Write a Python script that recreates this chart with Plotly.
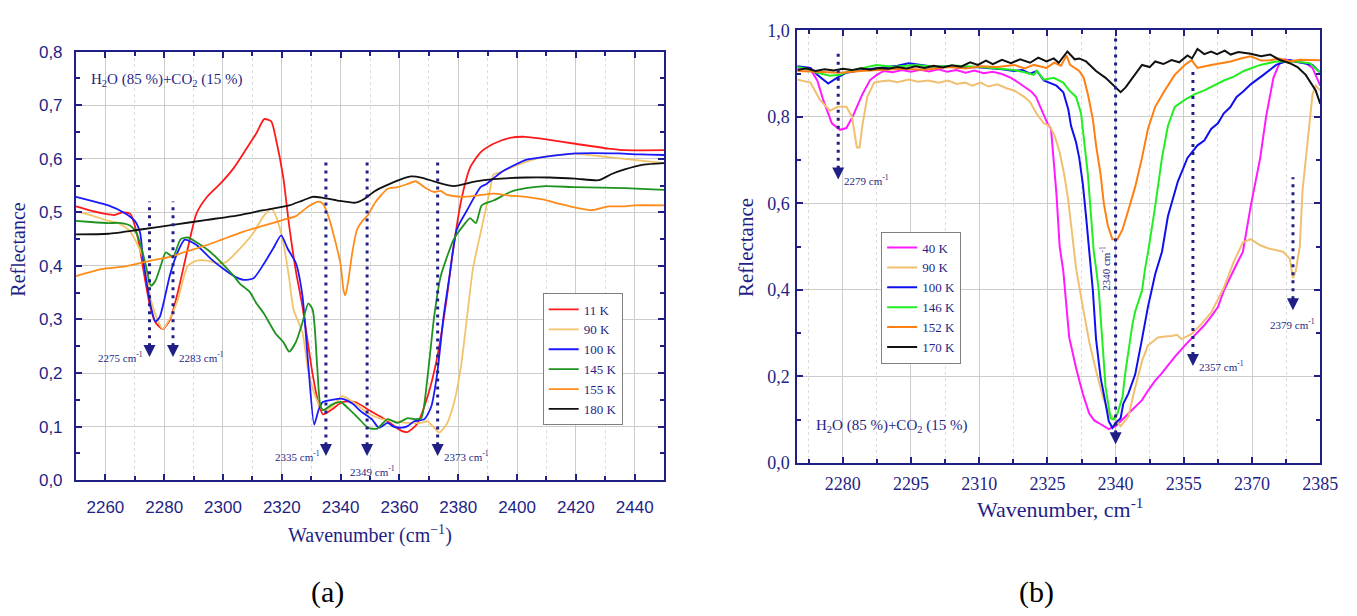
import plotly.graph_objects as go

NAVY = "#1f1f85"
SERIF = "Liberation Serif"
SANS = "Liberation Sans"

# ---------------- Panel (a) data ----------------
a_labels = ["11 K", "90 K", "100 K", "145 K", "155 K", "180 K"]
a_colors = ["#ff1a1a", "#f2c46a", "#1a1aff", "#1f931f", "#ff8c1a", "#111111"]

a11_x = [2250, 2255, 2260, 2263, 2266, 2268.5, 2270, 2271.5, 2273, 2275, 2277, 2279.5, 2282, 2284.6, 2288, 2291,
         2294.6, 2299, 2303.7, 2308, 2311.4, 2314, 2316.4, 2318, 2320.5, 2322.5, 2324.8, 2327, 2330.5, 2332.5, 2334,
         2337, 2340.6, 2345, 2349.3, 2355, 2360.7, 2362.8, 2366, 2369.5, 2372.8, 2376, 2378, 2381, 2384, 2387.6,
         2392, 2397.6, 2403, 2408.7, 2419.8, 2431, 2436.6, 2450]
a11_y = [0.511, 0.503, 0.497, 0.495, 0.500, 0.497, 0.475, 0.44, 0.39, 0.33, 0.295, 0.282, 0.300, 0.350, 0.432, 0.498,
         0.529, 0.553, 0.583, 0.619, 0.648, 0.674, 0.670, 0.637, 0.565, 0.475, 0.39, 0.325, 0.197, 0.143, 0.123,
         0.132, 0.146, 0.146, 0.132, 0.114, 0.092, 0.090, 0.105, 0.155, 0.228, 0.336, 0.42, 0.522, 0.583, 0.612,
         0.628, 0.639, 0.641, 0.637, 0.628, 0.619, 0.616, 0.616]

a90_x = [2250, 2255, 2261, 2264.4, 2267.8, 2271, 2273.5, 2275.5, 2278, 2279.5, 2282.2, 2284.6, 2288, 2291, 2294.6,
         2298, 2301, 2305.7, 2310.4, 2313.8, 2316.4, 2318, 2320.5, 2322.5, 2324, 2327, 2329, 2331.5, 2334, 2337,
         2340.6, 2345, 2349.3, 2354, 2358.4, 2362.8, 2367.4, 2369.5, 2371.8, 2373.5, 2376, 2378.5, 2381, 2383, 2385,
         2387.6, 2391, 2392, 2394, 2397.7, 2403, 2408.7, 2419.8, 2431, 2450]
a90_y = [0.502, 0.495, 0.484, 0.480, 0.468, 0.439, 0.403, 0.336, 0.296, 0.282, 0.305, 0.336, 0.400, 0.410, 0.410,
         0.405, 0.407, 0.432, 0.462, 0.493, 0.507, 0.493, 0.444, 0.377, 0.318, 0.276, 0.204, 0.155, 0.131, 0.137,
         0.157, 0.143, 0.125, 0.114, 0.110, 0.107, 0.107, 0.110, 0.098, 0.089, 0.104, 0.143, 0.215, 0.305, 0.395,
         0.462, 0.547, 0.571, 0.574, 0.583, 0.594, 0.603, 0.609, 0.603, 0.592]

a100_x = [2250, 2255, 2261, 2266.8, 2270, 2271.8, 2272.8, 2274, 2275.5, 2277, 2278.5, 2280, 2282, 2284.6, 2287, 2291,
          2295.7, 2300, 2303.7, 2307, 2310.4, 2313.8, 2317, 2319.8, 2322, 2324.8, 2327, 2329, 2331, 2332.5, 2333.9,
          2337, 2340.6, 2344, 2347, 2350.6, 2353, 2356, 2358, 2360.7, 2362.8, 2365, 2368.5, 2370.8, 2372.8, 2375,
          2377, 2379.5, 2383, 2387.6, 2389.6, 2395, 2403, 2408.7, 2419.8, 2434.6, 2442, 2450]
a100_y = [0.529, 0.522, 0.513, 0.498, 0.484, 0.462, 0.414, 0.370, 0.323, 0.296, 0.305, 0.336, 0.384, 0.426, 0.449,
          0.439, 0.414, 0.395, 0.381, 0.374, 0.377, 0.403, 0.432, 0.457, 0.432, 0.405, 0.345, 0.215, 0.104, 0.131,
          0.146, 0.150, 0.152, 0.143, 0.128, 0.114, 0.098, 0.107, 0.100, 0.098, 0.101, 0.110, 0.114, 0.137, 0.197,
          0.305, 0.380, 0.468, 0.504, 0.547, 0.553, 0.576, 0.598, 0.603, 0.610, 0.610, 0.608, 0.607]

a145_x = [2250, 2255, 2261, 2265.4, 2268.5, 2270.5, 2272, 2273.8, 2275.5, 2277, 2279, 2280.5, 2283, 2285.6, 2288,
          2291, 2295.7, 2300, 2303.7, 2305.7, 2309, 2311.4, 2313.8, 2318, 2320.5, 2322.5, 2324.8, 2327, 2329, 2330.5,
          2332, 2333, 2334, 2337, 2340, 2342.6, 2346, 2349.3, 2352.3, 2356, 2359.4, 2362.8, 2365, 2367.4, 2369.5,
          2371.8, 2374, 2376, 2378.5, 2382, 2384, 2386, 2388, 2392, 2397.7, 2403, 2409.7, 2419.8, 2436.6, 2450]
a145_y = [0.484, 0.482, 0.480, 0.480, 0.475, 0.462, 0.439, 0.400, 0.363, 0.372, 0.403, 0.425, 0.417, 0.450, 0.453,
          0.444, 0.426, 0.403, 0.381, 0.367, 0.352, 0.330, 0.312, 0.273, 0.258, 0.240, 0.258, 0.294, 0.330, 0.318,
          0.215, 0.143, 0.131, 0.141, 0.146, 0.134, 0.116, 0.098, 0.096, 0.114, 0.107, 0.116, 0.114, 0.116, 0.190,
          0.305, 0.380, 0.414, 0.450, 0.477, 0.489, 0.480, 0.513, 0.522, 0.538, 0.545, 0.549, 0.547, 0.545, 0.542]

a155_x = [2250, 2258.7, 2266.8, 2275.5, 2282, 2287, 2294.6, 2300, 2307, 2313.8, 2320.5, 2324.8, 2329, 2332.5, 2334,
          2336, 2338, 2340, 2341, 2341.6, 2342.6, 2344, 2345.6, 2347.7, 2349.3, 2351.7, 2356, 2359.4, 2362.8, 2365.5,
          2368.5, 2371.8, 2374, 2376, 2380.9, 2386, 2392, 2397.7, 2403, 2408.7, 2414.4, 2419.8, 2425.5, 2431,
          2436.6, 2440, 2450]
a155_y = [0.381, 0.394, 0.399, 0.410, 0.417, 0.426, 0.439, 0.450, 0.464, 0.475, 0.486, 0.493, 0.511, 0.520, 0.516,
          0.490, 0.450, 0.403, 0.354, 0.345, 0.372, 0.426, 0.468, 0.486, 0.495, 0.518, 0.544, 0.547, 0.553, 0.558,
          0.547, 0.538, 0.540, 0.533, 0.529, 0.531, 0.535, 0.531, 0.529, 0.524, 0.516, 0.509, 0.504, 0.511,
          0.511, 0.513, 0.513]

a180_x = [2250, 2261, 2272, 2283.5, 2294.6, 2305.7, 2313.8, 2322.5, 2327, 2330.5, 2334, 2339, 2345, 2348, 2351.7,
          2355, 2360.7, 2364, 2367.4, 2372.8, 2378.5, 2386, 2392, 2403, 2411, 2419.8, 2427.8, 2432, 2436.6, 2443, 2450]
a180_y = [0.459, 0.460, 0.468, 0.477, 0.486, 0.495, 0.504, 0.513, 0.522, 0.529, 0.527, 0.522, 0.518, 0.525, 0.540,
          0.549, 0.562, 0.567, 0.565, 0.556, 0.549, 0.558, 0.562, 0.565, 0.565, 0.563, 0.560, 0.571, 0.580, 0.589, 0.592]

a_series = [(a11_x, a11_y), (a90_x, a90_y), (a100_x, a100_y), (a145_x, a145_y), (a155_x, a155_y), (a180_x, a180_y)]

# peak markers panel (a): wavenumber, top of dotted line, arrow tip
a_peaks = [2275, 2283, 2335, 2349, 2373]
a_tops = [0.52, 0.52, 0.60, 0.60, 0.60]
a_tips = [0.23, 0.23, 0.045, 0.045, 0.045]

# ---------------- Panel (b) data ----------------
b_labels = ["40 K", "90 K", "100 K", "146 K", "152 K", "170 K"]
b_colors = ["#ff1aff", "#f0c070", "#1010ee", "#22ee22", "#ff7f10", "#111111"]

b40_x = [2270, 2271.5, 2273, 2274.4, 2275.7, 2277.6, 2279.4, 2280.8, 2282.2, 2284.3, 2286, 2287.5, 2289, 2291, 2293,
         2295, 2297, 2299, 2301, 2303, 2305, 2307, 2309, 2311, 2313, 2315, 2317, 2318.5, 2320, 2321.5, 2322.5, 2323.8,
         2325, 2325.8, 2326.4, 2327, 2327.7, 2328.5, 2329.2, 2329.8, 2331.3, 2332.8, 2334.2, 2335.3, 2336.3, 2337.4,
         2338.5, 2339.3, 2340, 2341, 2342.8, 2344, 2345.8, 2347, 2348.7, 2350, 2351.5, 2353, 2355.2, 2356.5, 2358,
         2359.5, 2361, 2362.5, 2363.8, 2365.2, 2366.6, 2368, 2369.7, 2371.8, 2373.1, 2374.7, 2376.2, 2377.2, 2379,
         2381.8, 2383.3, 2385]
b40_y = [0.913, 0.911, 0.908, 0.884, 0.839, 0.785, 0.770, 0.774, 0.801, 0.852, 0.885, 0.897, 0.906, 0.903, 0.908,
         0.904, 0.909, 0.905, 0.910, 0.904, 0.908, 0.902, 0.907, 0.901, 0.904, 0.899, 0.890, 0.880, 0.870, 0.858,
         0.846, 0.815, 0.785, 0.772, 0.705, 0.620, 0.500, 0.443, 0.360, 0.290, 0.219, 0.159, 0.114, 0.098, 0.092,
         0.085, 0.078, 0.082, 0.085, 0.095, 0.114, 0.126, 0.145, 0.165, 0.190, 0.205, 0.226, 0.245, 0.271, 0.285,
         0.302, 0.318, 0.338, 0.360, 0.398, 0.430, 0.459, 0.488, 0.593, 0.705, 0.801, 0.890, 0.928, 0.933, 0.928,
         0.924, 0.913, 0.872]

b90_x = [2270, 2272.9, 2275, 2277.2, 2278.9, 2280.8, 2282, 2282.6, 2283.1, 2283.7, 2284.3, 2285.4, 2286.9, 2288.5,
         2290.2, 2292, 2294.5, 2296.5, 2298.8, 2301, 2303.2, 2305, 2306.9, 2308.5, 2310.3, 2312, 2314, 2316, 2317.7,
         2319.9, 2321.2, 2322.7, 2324.2, 2325.5, 2326.6, 2327.7, 2328.7, 2329.6, 2330.2, 2330.9, 2331.3, 2332.8,
         2334.2, 2335.7, 2337.2, 2338.5, 2340, 2341.1, 2342.8, 2344.3, 2345.8, 2347.1, 2349.3, 2350.8, 2352.3,
         2353.5, 2354.5, 2356.7, 2358.8, 2361, 2363.8, 2366, 2368, 2369.7, 2371.8, 2373.5, 2375.3, 2376.8, 2378.3,
         2379, 2379.6, 2380.5, 2381.1, 2382.2, 2383.3, 2384, 2385]
b90_y = [0.886, 0.879, 0.839, 0.814, 0.823, 0.823, 0.801, 0.756, 0.729, 0.729, 0.779, 0.846, 0.879, 0.882, 0.884,
         0.880, 0.886, 0.881, 0.884, 0.879, 0.884, 0.876, 0.879, 0.872, 0.879, 0.870, 0.875, 0.866, 0.861, 0.846,
         0.834, 0.806, 0.785, 0.779, 0.756, 0.718, 0.667, 0.606, 0.548, 0.488, 0.450, 0.360, 0.280, 0.213, 0.152,
         0.114, 0.100, 0.085, 0.107, 0.174, 0.235, 0.271, 0.290, 0.292, 0.293, 0.296, 0.286, 0.298, 0.320, 0.347,
         0.405, 0.465, 0.510, 0.517, 0.503, 0.496, 0.492, 0.488, 0.472, 0.427, 0.443, 0.500, 0.629, 0.740, 0.852,
         0.872, 0.861]

b100_x = [2270, 2272.9, 2274.4, 2276.8, 2278.7, 2280.8, 2284.3, 2288.7, 2292, 2294.5, 2297.3, 2300, 2303.2, 2306,
          2309, 2311.8, 2315, 2317.7, 2319.5, 2321.2, 2322.7, 2324.2, 2325.5, 2327, 2328.5, 2329.6, 2330.2, 2331.3,
          2332, 2332.8, 2333.5, 2334.2, 2335, 2335.7, 2336.7, 2337.8, 2338.5, 2339.3, 2340, 2341.1, 2341.7, 2342.8,
          2344.3, 2345.8, 2347.1, 2348.7, 2350.2, 2351.5, 2353.7, 2355.8, 2358, 2359.5, 2361, 2362.5, 2363.8, 2365.2,
          2366.6, 2368, 2369.7, 2372.5, 2375.3, 2378.3, 2381.1, 2383.3, 2385]
b100_y = [0.917, 0.913, 0.897, 0.877, 0.890, 0.902, 0.908, 0.913, 0.918, 0.924, 0.920, 0.916, 0.917, 0.913, 0.915,
          0.913, 0.910, 0.906, 0.908, 0.900, 0.906, 0.884, 0.879, 0.872, 0.857, 0.817, 0.779, 0.741, 0.705, 0.644,
          0.570, 0.488, 0.398, 0.286, 0.197, 0.137, 0.096, 0.081, 0.092, 0.103, 0.137, 0.160, 0.204, 0.286, 0.360,
          0.436, 0.488, 0.570, 0.651, 0.705, 0.734, 0.745, 0.772, 0.785, 0.808, 0.822, 0.846, 0.858, 0.875, 0.897,
          0.920, 0.931, 0.924, 0.920, 0.902]

b146_x = [2270, 2272, 2274.4, 2277.2, 2279.4, 2281.5, 2284, 2287.4, 2291, 2296, 2300, 2305, 2310.3, 2314, 2317.7,
          2320, 2322, 2322.7, 2324.2, 2326.4, 2328.5, 2329.8, 2331.3, 2332.4, 2333.1, 2333.9, 2334.6, 2335.2, 2335.7,
          2336.3, 2337.2, 2337.8, 2338.9, 2339.6, 2340.4, 2341.5, 2342.2, 2342.8, 2343.7, 2344.3, 2345.8, 2346.5,
          2347.1, 2348.7, 2350.2, 2351.5, 2353, 2355.2, 2357.3, 2359.5, 2361.7, 2363.8, 2366, 2368.2, 2371.8, 2375.3,
          2379.6, 2382.7, 2385]
b146_y = [0.915, 0.911, 0.902, 0.895, 0.897, 0.906, 0.912, 0.920, 0.916, 0.920, 0.916, 0.918, 0.915, 0.911, 0.908,
          0.903, 0.897, 0.906, 0.886, 0.890, 0.879, 0.861, 0.846, 0.808, 0.741, 0.667, 0.570, 0.488, 0.450, 0.398,
          0.264, 0.174, 0.103, 0.100, 0.114, 0.152, 0.213, 0.260, 0.320, 0.350, 0.398, 0.450, 0.485, 0.593, 0.705,
          0.779, 0.823, 0.839, 0.852, 0.861, 0.872, 0.884, 0.893, 0.906, 0.920, 0.928, 0.928, 0.924, 0.902]

b152_x = [2270, 2275, 2279.4, 2284, 2288.7, 2293, 2298, 2303.2, 2307, 2310.3, 2314, 2317.7, 2320, 2322, 2324.8,
          2326.5, 2328, 2329.2, 2330, 2332, 2333, 2333.9, 2335, 2335.7, 2336.7, 2337.4, 2338.3, 2339.3, 2340.4,
          2341.5, 2342.8, 2344.3, 2345.8, 2347.1, 2348.7, 2350.8, 2353, 2355.2, 2356.7, 2358, 2361, 2363, 2365.3,
          2367.5, 2369.7, 2372, 2374, 2376, 2378.3, 2380.5, 2382.7, 2385]
b152_y = [0.906, 0.904, 0.902, 0.906, 0.908, 0.911, 0.909, 0.915, 0.912, 0.917, 0.915, 0.920, 0.912, 0.920, 0.913,
          0.925, 0.918, 0.942, 0.920, 0.906, 0.890, 0.852, 0.794, 0.734, 0.667, 0.600, 0.548, 0.517, 0.517, 0.539,
          0.584, 0.638, 0.705, 0.772, 0.823, 0.861, 0.897, 0.920, 0.931, 0.913, 0.920, 0.924, 0.928, 0.935, 0.940,
          0.930, 0.931, 0.935, 0.928, 0.932, 0.931, 0.931]

b170_x = [2270, 2272, 2274, 2276, 2278, 2280, 2282, 2284, 2286, 2288, 2290, 2292, 2294, 2296, 2298, 2300, 2302, 2304,
          2306, 2308, 2309.7, 2311.5, 2313, 2315, 2317, 2319, 2321.2, 2323, 2324.8, 2326.4, 2327.5, 2329.4, 2331,
          2332, 2333.5, 2335.7, 2337.8, 2339.3, 2340.2, 2341.1, 2342.2, 2343.7, 2345.8, 2347.5, 2348.7, 2350.5,
          2352.3, 2354, 2355.8, 2356.8, 2358, 2359.5, 2361, 2362.3, 2364, 2365.3, 2367, 2369.7, 2372, 2374, 2376,
          2378.3, 2380, 2381.8, 2384, 2385]
b170_y = [0.908, 0.912, 0.906, 0.910, 0.907, 0.911, 0.908, 0.912, 0.909, 0.913, 0.911, 0.915, 0.912, 0.917, 0.913,
          0.918, 0.914, 0.919, 0.916, 0.926, 0.920, 0.930, 0.922, 0.932, 0.924, 0.933, 0.925, 0.937, 0.928, 0.935,
          0.925, 0.951, 0.933, 0.935, 0.928, 0.906, 0.890, 0.875, 0.866, 0.857, 0.868, 0.890, 0.920, 0.915, 0.928,
          0.922, 0.931, 0.926, 0.942, 0.935, 0.957, 0.945, 0.951, 0.945, 0.953, 0.944, 0.950, 0.946, 0.940, 0.944,
          0.932, 0.924, 0.915, 0.897, 0.861, 0.830]

b_series = [(b40_x, b40_y), (b90_x, b90_y), (b100_x, b100_y), (b146_x, b146_y), (b152_x, b152_y), (b170_x, b170_y)]

b_peaks = [2279, 2340, 2357, 2379]
b_tops = [0.957, 0.99, 0.91, 0.66]
b_tips = [0.655, 0.043, 0.224, 0.353]

# ---------------- Figure ----------------
W, H = 1357, 616
fig = go.Figure()

for (xs, ys), name, col in zip(a_series, a_labels, a_colors):
    fig.add_trace(go.Scatter(x=xs, y=ys, name=name, mode="lines", xaxis="x", yaxis="y",
                             line=dict(color=col, width=1.8, shape="spline", smoothing=0.6),
                             legend="legend", hoverinfo="skip"))

for (xs, ys), name, col in zip(b_series, b_labels, b_colors):
    fig.add_trace(go.Scatter(x=xs, y=ys, name=name, mode="lines", xaxis="x2", yaxis="y2",
                             line=dict(color=col, width=2), legend="legend2", hoverinfo="skip"))


def px_x(p):
    return p / W


def px_y(p):
    return 1 - p / H


axis_common = dict(showline=True, linecolor=NAVY, linewidth=2, mirror="allticks", ticks="inside",
                   tickcolor=NAVY, ticklen=6, tickwidth=1.5, showgrid=True, gridcolor="#cccccc",
                   gridwidth=1, zeroline=False)

fig.update_layout(
    width=W, height=H, autosize=False,
    margin=dict(l=0, r=0, t=0, b=0),
    paper_bgcolor="white", plot_bgcolor="white",
    separators=",.",
    showlegend=True,
    xaxis=dict(domain=[px_x(77), px_x(673)], range=[2250, 2450], tick0=2260, dtick=20, anchor="y",
               tickfont=dict(family=SANS, size=17, color=NAVY), ticklabelstandoff=10,
               minor=dict(dtick=10, ticks="inside", ticklen=4, tickcolor=NAVY, showgrid=True,
                          gridcolor="#dcdcdc", griddash="dot"),
               **axis_common),
    yaxis=dict(domain=[px_y(486), px_y(43)], range=[0, 0.8], tick0=0, dtick=0.1, tickformat=".1f", anchor="x",
               tickfont=dict(family=SANS, size=17, color=NAVY), ticklabelstandoff=8,
               minor=dict(dtick=0.05, ticks="inside", ticklen=4, tickcolor=NAVY, showgrid=False),
               **axis_common),
    xaxis2=dict(domain=[px_x(808), px_x(1338)], range=[2270, 2385], tick0=2280, dtick=15, anchor="y2",
                tickfont=dict(family=SERIF, size=18, color=NAVY), ticklabelstandoff=4,
                minor=dict(dtick=7.5, ticks="inside", ticklen=4, tickcolor=NAVY, showgrid=True,
                           gridcolor="#dcdcdc", griddash="dot"),
                **axis_common),
    yaxis2=dict(domain=[px_y(468), px_y(21)], range=[0, 1.0], tick0=0, dtick=0.2, tickformat=".1f", anchor="x2",
                tickfont=dict(family=SERIF, size=18, color=NAVY), ticklabelstandoff=2,
                minor=dict(dtick=0.1, ticks="inside", ticklen=4, tickcolor=NAVY, showgrid=False),
                **axis_common),
    legend=dict(x=px_x(550), y=px_y(293), xanchor="left", yanchor="top", bgcolor="white",
                bordercolor="#808080", borderwidth=1, font=dict(family=SERIF, size=13, color=NAVY),
                tracegroupgap=0),
    legend2=dict(x=px_x(893), y=px_y(229), xanchor="left", yanchor="top", bgcolor="white",
                 bordercolor="#808080", borderwidth=1, font=dict(family=SERIF, size=13, color=NAVY),
                 tracegroupgap=0),
)

shapes = []
annotations = []
DOTS = "3px,5px"
LBL = dict(family=SERIF, size=11, color=NAVY)

# panel (a) markers
a_label_pos = ["left", "right", "left", "below", "right"]
for wn, top, tip, pos in zip(a_peaks, a_tops, a_tips, a_label_pos):
    shapes.append(dict(type="line", xref="x", yref="y", x0=wn, x1=wn, y0=tip + 0.02, y1=top,
                       line=dict(color=NAVY, width=3, dash=DOTS)))
    annotations.append(dict(xref="x", yref="y", x=wn, y=tip, ax=0, ay=-15, text="", showarrow=True,
                            arrowhead=2, arrowsize=1.2, arrowwidth=2, arrowcolor=NAVY, standoff=0))
    txt = f"{wn} cm<sup>-1</sup>"
    if pos == "left":
        annotations.append(dict(xref="x", yref="y", x=wn, y=tip, text=txt, showarrow=False, xanchor="right",
                                yanchor="middle", xshift=-4, font=LBL))
    elif pos == "right":
        annotations.append(dict(xref="x", yref="y", x=wn, y=tip, text=txt, showarrow=False, xanchor="left",
                                yanchor="middle", xshift=4, font=LBL))
    else:
        annotations.append(dict(xref="x", yref="y", x=wn, y=tip, text=txt, showarrow=False, xanchor="center",
                                yanchor="top", xshift=5, yshift=-6, font=LBL))

# panel (b) markers
b_label_pos = ["right", "rotated", "right", "below"]
for wn, top, tip, pos in zip(b_peaks, b_tops, b_tips, b_label_pos):
    shapes.append(dict(type="line", xref="x2", yref="y2", x0=wn, x1=wn, y0=tip + 0.025, y1=top,
                       line=dict(color=NAVY, width=3, dash=DOTS)))
    annotations.append(dict(xref="x2", yref="y2", x=wn, y=tip, ax=0, ay=-15, text="", showarrow=True,
                            arrowhead=2, arrowsize=1.2, arrowwidth=2, arrowcolor=NAVY, standoff=0))
    txt = f"{wn} cm<sup>-1</sup>"
    if pos == "right":
        annotations.append(dict(xref="x2", yref="y2", x=wn, y=tip, text=txt, showarrow=False, xanchor="left",
                                yanchor="middle", xshift=4, font=LBL))
    elif pos == "below":
        annotations.append(dict(xref="x2", yref="y2", x=wn, y=tip, text=txt, showarrow=False, xanchor="center",
                                yanchor="top", yshift=-5, font=LBL))
    else:
        annotations.append(dict(xref="x2", yref="y2", x=wn, y=0.45, text=txt, showarrow=False, textangle=-90,
                                xanchor="center", yanchor="middle", xshift=-10, font=LBL))

# composition labels
annotations.append(dict(xref="paper", yref="paper", x=px_x(90), y=px_y(72), xanchor="left", yanchor="middle",
                        text="H<sub>2</sub>O (85 %)+CO<sub>2</sub> (15 %)", showarrow=False,
                        font=dict(family=SERIF, size=15, color=NAVY)))
annotations.append(dict(xref="paper", yref="paper", x=px_x(825), y=px_y(430), xanchor="left", yanchor="middle",
                        text="H<sub>2</sub>O (85 %)+CO<sub>2</sub> (15 %)", showarrow=False,
                        font=dict(family=SERIF, size=15, color=NAVY)))

# axis titles
annotations.append(dict(xref="paper", yref="paper", x=px_x(18), y=px_y(248), text="Reflectance", textangle=-90,
                        showarrow=False, xanchor="center", yanchor="middle",
                        font=dict(family=SERIF, size=20, color=NAVY)))
annotations.append(dict(xref="paper", yref="paper", x=px_x(375), y=px_y(542), text="Wavenumber (cm<sup>−1</sup>)",
                        showarrow=False, xanchor="center", yanchor="middle",
                        font=dict(family=SERIF, size=20, color=NAVY)))
annotations.append(dict(xref="paper", yref="paper", x=px_x(756), y=px_y(245), text="Reflectance", textangle=-90,
                        showarrow=False, xanchor="center", yanchor="middle",
                        font=dict(family=SERIF, size=21, color=NAVY)))
annotations.append(dict(xref="paper", yref="paper", x=px_x(1075), y=px_y(515), text="Wavenumber, cm<sup>-1</sup>",
                        showarrow=False, xanchor="center", yanchor="middle",
                        font=dict(family=SERIF, size=22, color=NAVY)))

# panel labels
annotations.append(dict(xref="paper", yref="paper", x=px_x(332), y=px_y(602), text="(a)", showarrow=False,
                        xanchor="center", yanchor="middle", font=dict(family=SERIF, size=30, color="black")))
annotations.append(dict(xref="paper", yref="paper", x=px_x(1050), y=px_y(602), text="(b)", showarrow=False,
                        xanchor="center", yanchor="middle", font=dict(family=SERIF, size=30, color="black")))

fig.update_layout(shapes=shapes, annotations=annotations)

fig.write_html("out.html", config={"displayModeBar": False})
